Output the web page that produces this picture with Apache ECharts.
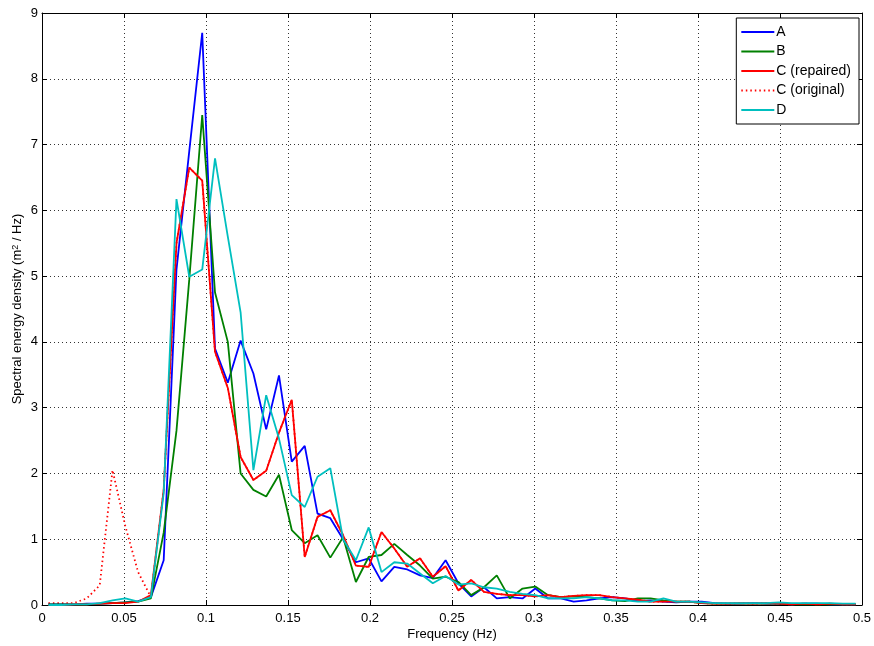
<!DOCTYPE html>
<html>
<head>
<meta charset="utf-8">
<script src="https://cdn.jsdelivr.net/npm/echarts@6/dist/echarts.min.js"></script>
<style>
html,body{margin:0;padding:0;background:#fff;}
#c{width:874px;height:646px;}
</style>
</head>
<body>
<div id="c"></div>
<script>
var freq = [0.0039,0.0117,0.0195,0.0273,0.0352,0.0430,0.0508,0.0586,0.0664,0.0742,
  0.0820,0.0898,0.0977,0.1055,0.1133,0.1211,0.1289,0.1367,0.1445,0.1523,
  0.1602,0.1680,0.1758,0.1836,0.1914,0.1992,0.2070,0.2148,0.2227,0.2305,
  0.2383,0.2461,0.2539,0.2617,0.2695,0.2773,0.2852,0.2930,0.3008,0.3086,
  0.3164,0.3242,0.3320,0.3398,0.3477,0.3555,0.3633,0.3711,0.3789,0.3867,
  0.3945,0.4023,0.4102,0.4180,0.4258,0.4336,0.4414,0.4492,0.4570,0.4648,
  0.4727,0.4805,0.4883,0.4961];

var seriesA = [0.01,0.01,0.01,0.02,0.02,0.03,0.04,0.06,0.12,0.68,
  5.1,6.9,8.7,3.9,3.38,4.02,3.52,2.67,3.49,2.18,
  2.42,1.39,1.32,1.0,0.65,0.71,0.36,0.58,0.54,0.45,
  0.41,0.68,0.33,0.13,0.27,0.1,0.12,0.1,0.25,0.1,
  0.1,0.05,0.07,0.1,0.12,0.1,0.06,0.07,0.05,0.04,
  0.05,0.05,0.03,0.02,0.02,0.03,0.02,0.02,0.01,0.02,
  0.02,0.01,0.01,0.01];

var seriesB = [0.01,0.01,0.01,0.01,0.02,0.03,0.04,0.05,0.1,1.1,
  2.65,4.95,7.45,4.75,4.0,2.0,1.75,1.65,1.98,1.14,
  0.94,1.06,0.72,1.03,0.35,0.73,0.76,0.93,0.76,0.6,
  0.4,0.43,0.35,0.15,0.27,0.45,0.1,0.25,0.28,0.15,
  0.12,0.13,0.12,0.1,0.07,0.06,0.1,0.1,0.07,0.05,
  0.05,0.03,0.02,0.02,0.02,0.02,0.02,0.02,0.01,0.01,
  0.01,0.01,0.01,0.01];

var seriesCRepaired = [0.0,0.0,0.01,0.01,0.02,0.03,0.03,0.05,0.15,1.75,
  5.5,6.65,6.45,3.85,3.3,2.25,1.9,2.04,2.62,3.12,
  0.73,1.34,1.44,1.06,0.6,0.58,1.11,0.86,0.58,0.71,
  0.43,0.59,0.22,0.38,0.2,0.17,0.15,0.15,0.13,0.15,
  0.12,0.14,0.15,0.15,0.12,0.1,0.08,0.05,0.05,0.05,
  0.05,0.03,0.02,0.02,0.03,0.02,0.03,0.02,0.01,0.02,
  0.01,0.02,0.01,0.01];

// Original C differs only at low frequencies; above that it equals the repaired record
var seriesCOriginalLow = [0.03,0.03,0.03,0.1,0.3,2.05,1.2,0.5,0.12];

var seriesD = [0.0,0.0,0.01,0.01,0.03,0.07,0.1,0.05,0.12,1.7,
  6.17,4.99,5.1,6.79,5.6,4.45,2.05,3.19,2.53,1.67,
  1.49,1.95,2.08,1.0,0.68,1.18,0.5,0.65,0.63,0.48,
  0.33,0.44,0.31,0.33,0.27,0.25,0.2,0.17,0.15,0.1,
  0.1,0.1,0.12,0.1,0.07,0.07,0.05,0.05,0.1,0.05,
  0.05,0.04,0.03,0.03,0.03,0.03,0.03,0.04,0.03,0.03,
  0.03,0.03,0.02,0.02];

var names = ['A','B','C (repaired)','C (original)','D'];
var xTicks = {min:0, max:0.5, interval:0.05};
var yTicks = {min:0, max:9, interval:1};

var seriesCOriginal = seriesCOriginalLow.concat(seriesCRepaired.slice(seriesCOriginalLow.length));

function pairs(v){ return freq.map(function(f,i){ return [f, v[i]]; }); }

var FONT = '"Liberation Sans", Arial, Helvetica, sans-serif';
var chart = echarts.init(document.getElementById('c'), null, {renderer:'canvas'});

function lineSeries(name, data, color, type, z){
  return {
    name: name, type: 'line', data: pairs(data), symbol: 'none', showSymbol: false,
    xAxisIndex: 0, yAxisIndex: 0, z: z,
    lineStyle: {color: color, width: 1.8, type: type},
    itemStyle: {color: color},
    animation: false
  };
}

var gridLine = {show:true, lineStyle:{color:'#333', type:[1,3], width:1}};

chart.setOption({
  backgroundColor: '#ffffff',
  textStyle: {fontFamily: FONT},
  grid: {left: 42, right: 12, top: 13, bottom: 41, containLabel: false, outerBoundsMode: 'none'},
  legend: {
    data: names,
    orient: 'vertical',
    right: 15, top: 18,
    padding: [7, 8, 7, 4],
    itemGap: 5.5,
    itemWidth: 33, itemHeight: 14,
    borderColor: '#000', borderWidth: 1,
    backgroundColor: '#fff',
    itemStyle: {opacity: 0},
    textStyle: {fontSize: 14, color: '#000', fontFamily: FONT, padding:[0,0,0,-3]}
  },
  xAxis: [{
    type: 'value', min: xTicks.min, max: xTicks.max, interval: xTicks.interval,
    position: 'bottom',
    name: 'Frequency (Hz)', nameLocation: 'middle', nameGap: 23, nameMoveOverlap: false,
    nameTextStyle: {fontSize: 13, color: '#000', fontFamily: FONT},
    axisLine: {show: true, onZero: false, lineStyle: {color: '#000', width: 1}},
    axisTick: {show: true, inside: true, length: 5, lineStyle: {color: '#000'}},
    axisLabel: {fontSize: 13, color: '#000', margin: 7, fontFamily: FONT},
    splitLine: gridLine
  }, {
    type: 'value', min: xTicks.min, max: xTicks.max, interval: xTicks.interval,
    position: 'top',
    axisLine: {show: true, onZero: false, lineStyle: {color: '#000', width: 1}},
    axisTick: {show: true, inside: true, length: 5, lineStyle: {color: '#000'}},
    axisLabel: {show: false}, splitLine: {show: false}
  }],
  yAxis: [{
    type: 'value', min: yTicks.min, max: yTicks.max, interval: yTicks.interval,
    position: 'left',
    name: 'Spectral energy density (m{sup|2} / Hz)', nameLocation: 'middle', nameGap: 18, nameMoveOverlap: false,
    nameTextStyle: {fontSize: 13, color: '#000', fontFamily: FONT,
      rich: {sup: {fontSize: 9, verticalAlign: 'top', color:'#000', fontFamily: FONT}}},
    axisLine: {show: true, onZero: false, lineStyle: {color: '#000', width: 1}},
    axisTick: {show: true, inside: true, length: 5, lineStyle: {color: '#000'}},
    axisLabel: {fontSize: 13, color: '#000', margin: 4, fontFamily: FONT},
    splitLine: gridLine
  }, {
    type: 'value', min: yTicks.min, max: yTicks.max, interval: yTicks.interval,
    position: 'right',
    axisLine: {show: true, onZero: false, lineStyle: {color: '#000', width: 1}},
    axisTick: {show: true, inside: true, length: 5, lineStyle: {color: '#000'}},
    axisLabel: {show: false}, splitLine: {show: false}
  }],
  series: [
    lineSeries(names[3], seriesCOriginal, '#ff0000', [1.5,3], 1),
    lineSeries(names[0], seriesA, '#0000ff', 'solid', 2),
    lineSeries(names[1], seriesB, '#008000', 'solid', 3),
    lineSeries(names[2], seriesCRepaired, '#ff0000', 'solid', 4),
    lineSeries(names[4], seriesD, '#00bfbf', 'solid', 5)
  ]
});
</script>
</body>
</html>
